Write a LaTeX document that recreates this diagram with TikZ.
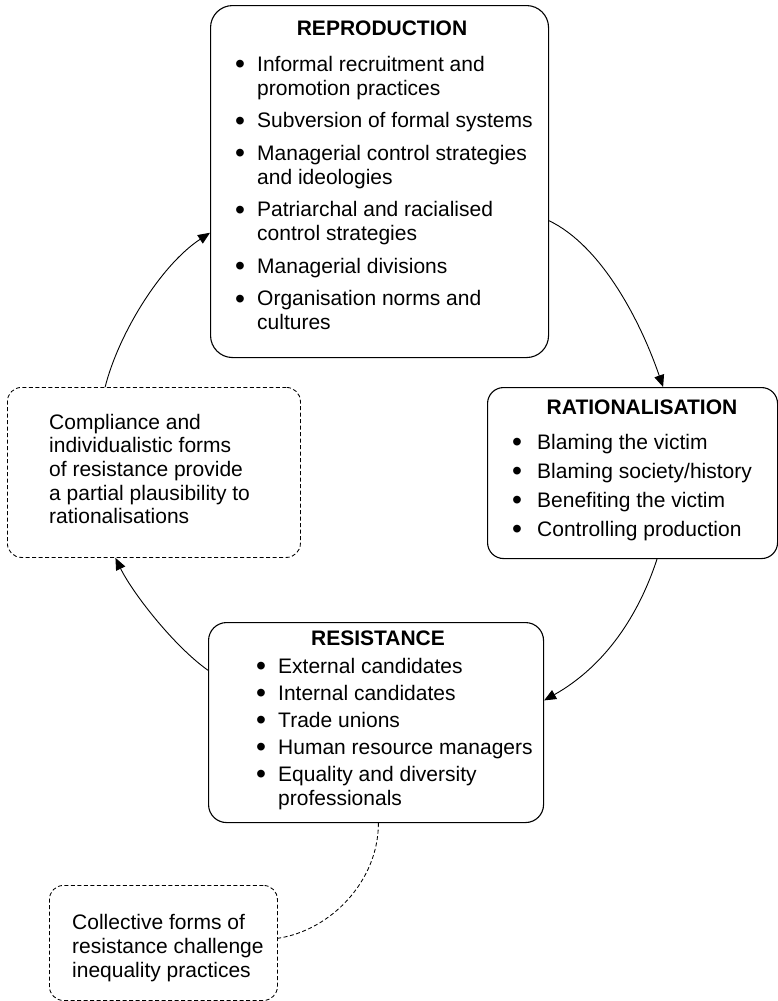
\documentclass[tikz,border=0pt]{standalone}
\usepackage{fontspec}
\setmainfont{Liberation Sans}
\usetikzlibrary{arrows.meta,calc}

% bullet cell of a given width
\newcommand{\bul}[1]{\makebox[#1][l]{\raisebox{-2.6pt}{\scalebox{1.35}{\textbullet}}}}

\tikzset{
  panel/.style={draw, line width=1.1pt, rounded corners=#1, anchor=north west, inner sep=0pt},
  panel/.default=20pt,
  notebox/.style={draw, line width=0.85pt, dash pattern=on 4pt off 2.5pt, rounded corners=14pt, anchor=north west, inner sep=0pt},
  heading/.style={anchor=base, inner sep=0pt, font=\fontsize{21pt}{24pt}\selectfont\bfseries},
  listtext/.style={anchor=base west, inner sep=0pt, font=\fontsize{21pt}{24pt}\selectfont},
  flow/.style={line width=0.9pt, -{Triangle[length=12pt,width=10pt]}},
  link/.style={line width=0.85pt, dash pattern=on 4pt off 2.5pt},
}

\begin{document}
\begin{tikzpicture}[x=1pt,y=1pt]
\useasboundingbox (0,0) rectangle (778,-1001);

% ---- panels ----
\node[panel=22pt, minimum width=338pt, minimum height=352pt] (repro) at (210,-5) {};
\node[panel=16pt, minimum width=290pt, minimum height=171pt] (ratio) at (487,-387) {};
\node[panel=18pt, minimum width=335pt, minimum height=200pt] (resist) at (208,-622) {};
\node[notebox, minimum width=293pt, minimum height=170pt] (compl) at (7,-387) {};
\node[notebox, minimum width=228pt, minimum height=115pt] (collect) at (49,-885) {};

% ---- REPRODUCTION ----
\node[heading] (reprotitle) at (382,-35) {REPRODUCTION};
\node[listtext] (reprolist) at (235,-71) {%
\begin{tabular}[t]{@{}l@{}l@{}}
\bul{22pt} & Informal recruitment and\\
 & promotion practices\\[8.5pt]
\bul{22pt} & Subversion of formal systems\\[8.5pt]
\bul{22pt} & Managerial control strategies\\
 & and ideologies\\[8.5pt]
\bul{22pt} & Patriarchal and racialised\\
 & control strategies\\[8.5pt]
\bul{22pt} & Managerial divisions\\[8.5pt]
\bul{22pt} & Organisation norms and\\
 & cultures
\end{tabular}};

% ---- RATIONALISATION ----
\node[heading] (ratiotitle) at (642,-414) {RATIONALISATION};
\node[listtext] (ratiolist) at (512,-449) {%
\begin{tabular}[t]{@{}l@{}l@{}}
\bul{25pt} & Blaming the victim\\[5pt]
\bul{25pt} & Blaming society/history\\[5pt]
\bul{25pt} & Benefiting the victim\\[5pt]
\bul{25pt} & Controlling production
\end{tabular}};

% ---- RESISTANCE ----
\node[heading] (resisttitle) at (378,-645) {RESISTANCE};
\node[listtext] (resistlist) at (256,-673) {%
\begin{tabular}[t]{@{}l@{}l@{}}
\bul{22pt} & External candidates\\[3pt]
\bul{22pt} & Internal candidates\\[3pt]
\bul{22pt} & Trade unions\\[3pt]
\bul{22pt} & Human resource managers\\[3pt]
\bul{22pt} & Equality and diversity\\
 & professionals
\end{tabular}};

% ---- notes ----
\node[listtext, font=\fontsize{21pt}{23.7pt}\selectfont] (compltext) at (49,-429) {%
\begin{tabular}[t]{@{}l@{}}
Compliance and\\
individualistic forms\\
of resistance provide\\
a partial plausibility to\\
rationalisations
\end{tabular}};
\node[listtext] (collecttext) at (72,-929) {%
\begin{tabular}[t]{@{}l@{}}
Collective forms of\\
resistance challenge\\
inequality practices
\end{tabular}};

% ---- cycle ----
\draw[flow] ($(repro.north east)!0.611!(repro.south east)$)
  .. controls +(52,-25) and +(-23,67) .. ($(ratio.north west)!0.605!(ratio.north east)$);
\draw[flow] ($(ratio.south west)!0.584!(ratio.south east)$)
  .. controls +(-18,-55) and +(62,35) .. ($(resist.north east)!0.39!(resist.south east)$);
\draw[flow] ($(resist.north west)!0.24!(resist.south west)$)
  .. controls +(-34,24) and +(17,-35) .. ($(compl.south west)!0.369!(compl.south east)$);
\draw[flow] ($(compl.north west)!0.334!(compl.north east)$)
  .. controls +(13,52) and +(-50,-33) .. ($(repro.north west)!0.645!(repro.south west)$);

% ---- collective resistance link ----
\draw[link] ($(resist.south west)!0.507!(resist.south east)$)
  .. controls +(0,-58) and +(53,8) .. ($(collect.north east)!0.46!(collect.south east)$);
\end{tikzpicture}
\end{document}
